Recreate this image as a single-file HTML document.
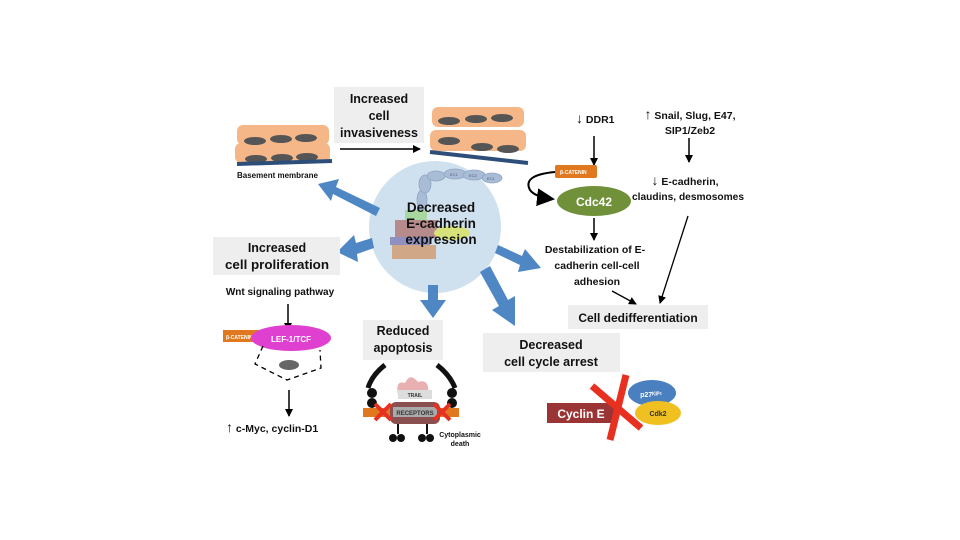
<!DOCTYPE html>
<html><head><meta charset="utf-8"><style>
body{margin:0;background:#fff}
svg{display:block;font-family:"Liberation Sans",sans-serif;font-weight:bold}
</style></head><body>
<svg width="960" height="540" viewBox="0 0 960 540" xmlns="http://www.w3.org/2000/svg">
<defs>
<marker id="ah" markerWidth="8" markerHeight="8" refX="7" refY="4" orient="auto" markerUnits="userSpaceOnUse"><path d="M0,0 L8,4 L0,8 Z" fill="#000"/></marker>
<marker id="ah2" markerWidth="18" markerHeight="18" refX="16" refY="9" orient="auto" markerUnits="userSpaceOnUse"><path d="M0,0 L18,9 L0,18 Z" fill="#000"/></marker>
</defs>
<circle cx="435" cy="227" r="66" fill="#cfe0ee"/>
<g fill="#a9bcd6" stroke="#8fa5c4" stroke-width="0.8">
<ellipse cx="422" cy="200" rx="5" ry="10"/><ellipse cx="425" cy="184" rx="6" ry="9"/><ellipse cx="436" cy="176" rx="9" ry="5"/><ellipse cx="455" cy="174" rx="11" ry="5"/><ellipse cx="474" cy="175" rx="11" ry="5"/><ellipse cx="492" cy="178" rx="10" ry="5"/></g>
<g font-size="4" fill="#557" font-weight="normal"><text x="450" y="176">EC1</text><text x="469" y="177">EC2</text><text x="487" y="180">EC1</text></g>
<rect x="405" y="210" width="22" height="12" fill="#a8d8a0"/>
<rect x="395" y="220" width="42" height="18" fill="#b78b8b"/>
<ellipse cx="452" cy="233" rx="18" ry="7" fill="#d8e27a"/>
<rect x="390" y="237" width="40" height="8" fill="#9090c0"/>
<rect x="392" y="245" width="44" height="14" fill="#d0a888"/>
<g font-size="13.5" text-anchor="middle" fill="#111"><text x="441" y="212">Decreased</text><text x="441" y="228">E-cadherin</text><text x="441" y="244">expression</text></g>
<g fill="#4f86c4">
<polygon points="380,208 336,187 339,179 318,184 331,201 333,194 376,216"/>
<polygon points="372,238 356,243 354,235 337,252 358,262 357,254 374,248"/>
<polygon points="428,285 438,285 438,300 446,300 433,318 420,300 428,300"/>
<polygon points="480,272 490,266 508,300 515,296 515,326 492,310 499,306"/>
<polygon points="498,245 522,256 525,249 541,268 518,272 520,265 495,253"/>
</g>
<rect x="334" y="87" width="90" height="56" fill="#eeeeee"/>
<g font-size="12.5" text-anchor="middle" fill="#111"><text x="379" y="103">Increased</text><text x="379" y="120">cell</text><text x="379" y="137" textLength="78" lengthAdjust="spacingAndGlyphs">invasiveness</text></g>
<line x1="340" y1="149" x2="420" y2="149" stroke="#000" stroke-width="1.5" marker-end="url(#ah)"/>
<g fill="#f5b787">
<rect x="237" y="125" width="92" height="20" rx="6"/><rect x="235" y="143" width="95" height="20" rx="6"/>
</g>
<g fill="#555"><ellipse cx="255" cy="141" rx="11" ry="4"/><ellipse cx="281" cy="139" rx="11" ry="4"/><ellipse cx="306" cy="138" rx="11" ry="4"/><ellipse cx="256" cy="159" rx="11" ry="4"/><ellipse cx="282" cy="158" rx="11" ry="4"/><ellipse cx="307" cy="157" rx="11" ry="4"/></g>
<line x1="237" y1="164" x2="332" y2="161" stroke="#2e4e7a" stroke-width="4"/>
<text x="237" y="178" font-size="8" fill="#111">Basement membrane</text>
<g fill="#f5b787"><rect x="432" y="107" width="92" height="20" rx="6"/><rect x="430" y="130" width="96" height="21" rx="6"/></g>
<g fill="#555"><ellipse cx="449" cy="121" rx="11" ry="4"/><ellipse cx="476" cy="119" rx="11" ry="4"/><ellipse cx="502" cy="118" rx="11" ry="4"/><ellipse cx="449" cy="141" rx="11" ry="4"/><ellipse cx="482" cy="147" rx="11" ry="4"/><ellipse cx="508" cy="149" rx="11" ry="4"/></g>
<line x1="430" y1="152" x2="528" y2="163" stroke="#2e4e7a" stroke-width="4"/>
<rect x="213" y="237" width="127" height="38" fill="#eeeeee"/>
<g font-size="12.5" text-anchor="middle" fill="#111"><text x="277" y="252">Increased</text><text x="277" y="269" textLength="104" lengthAdjust="spacingAndGlyphs">cell proliferation</text></g>
<text x="280" y="295" font-size="10" text-anchor="middle" fill="#111">Wnt signaling pathway</text>
<line x1="288" y1="304" x2="288" y2="330" stroke="#000" stroke-width="1.5" marker-end="url(#ah)"/>
<rect x="223" y="330" width="40" height="12" fill="#e07820"/>
<text x="226" y="339" font-size="5" fill="#fff">β-CATENIN</text>
<ellipse cx="291" cy="338" rx="40" ry="13" fill="#e040d0"/>
<text x="291" y="342" font-size="8" text-anchor="middle" fill="#fff">LEF-1/TCF</text>
<path d="M263,346 L255,364 L287,380 L321,368 L320,350" stroke="#000" stroke-dasharray="5,4" fill="none" stroke-width="1.3"/>
<ellipse cx="289" cy="365" rx="10" ry="5" fill="#666"/>
<line x1="289" y1="390" x2="289" y2="416" stroke="#000" stroke-width="1.5" marker-end="url(#ah)"/>
<text x="226" y="432" font-size="10.5" fill="#111"><tspan font-weight="normal" font-size="14">↑</tspan> c-Myc, cyclin-D1</text>
<rect x="363" y="320" width="80" height="40" fill="#eeeeee"/>
<g font-size="12.5" text-anchor="middle" fill="#111"><text x="403" y="335">Reduced</text><text x="403" y="352">apoptosis</text></g>
<path d="M368,388 Q372,375 385,365" stroke="#111" stroke-width="5" fill="none"/>
<path d="M437,365 Q450,375 455,388" stroke="#111" stroke-width="5" fill="none"/>
<g fill="#111"><circle cx="372" cy="393" r="5"/><circle cx="372" cy="403" r="5"/><circle cx="452" cy="393" r="5"/><circle cx="452" cy="403" r="5"/></g>
<path d="M398,395 Q395,380 405,383 Q410,372 418,382 Q430,378 428,395 Z" fill="#e8b0b0"/>
<rect x="363" y="408" width="96" height="9" fill="#e07820"/>
<rect x="390" y="402" width="50" height="22" rx="6" fill="#8a5050"/>
<rect x="398" y="390" width="34" height="9" fill="#ddd"/><text x="415" y="397" font-size="5" text-anchor="middle" fill="#333">TRAIL</text>
<rect x="393" y="407" width="44" height="10" fill="#aaa"/><text x="415" y="415" font-size="6" text-anchor="middle" fill="#333">RECEPTORS</text>
<g stroke="#e83020" stroke-width="4"><line x1="375" y1="404" x2="391" y2="420"/><line x1="391" y1="404" x2="375" y2="420"/><line x1="434" y1="404" x2="450" y2="420"/><line x1="450" y1="404" x2="434" y2="420"/></g>
<g fill="#111"><circle cx="393" cy="438" r="4"/><circle cx="401" cy="438" r="4"/><circle cx="422" cy="438" r="4"/><circle cx="430" cy="438" r="4"/></g>
<g stroke="#111" stroke-width="2"><line x1="398" y1="424" x2="398" y2="434"/><line x1="427" y1="424" x2="427" y2="434"/></g>
<g font-size="7" text-anchor="middle" fill="#111"><text x="460" y="437">Cytoplasmic</text><text x="460" y="446">death</text></g>
<rect x="483" y="333" width="137" height="39" fill="#eeeeee"/>
<g font-size="12.5" text-anchor="middle" fill="#111"><text x="551" y="349">Decreased</text><text x="551" y="366">cell cycle arrest</text></g>
<rect x="547" y="403" width="68" height="20" fill="#9b3535"/>
<text x="581" y="418" font-size="12" text-anchor="middle" fill="#fff">Cyclin E</text>
<ellipse cx="652" cy="393" rx="24" ry="13" fill="#4a7fc0"/>
<text x="651" y="397" font-size="7" text-anchor="middle" fill="#fff">p27ᴷᴵᴾ¹</text>
<ellipse cx="658" cy="413" rx="23" ry="12" fill="#f0c020"/>
<text x="658" y="416" font-size="7" text-anchor="middle" fill="#333">Cdk2</text>
<g stroke="#e83020" stroke-width="7"><line x1="592" y1="386" x2="641" y2="428"/><line x1="626" y1="375" x2="610" y2="440"/></g>
<text x="576" y="123" font-size="10.5" fill="#111"><tspan font-weight="normal" font-size="14">↓</tspan> DDR1</text>
<line x1="594" y1="136" x2="594" y2="165" stroke="#000" stroke-width="1.5" marker-end="url(#ah)"/>
<rect x="555" y="165" width="42" height="13" rx="2" fill="#e07820"/>
<text x="560" y="174" font-size="5" fill="#fff">β-CATENIN</text>
<path d="M555,172 Q522,175 530,190 Q535,197 553,199" stroke="#000" stroke-width="2" fill="none" marker-end="url(#ah2)"/>
<ellipse cx="594" cy="201" rx="37" ry="15" fill="#70903a"/>
<text x="594" y="206" font-size="12" text-anchor="middle" fill="#fff">Cdc42</text>
<line x1="594" y1="218" x2="594" y2="240" stroke="#000" stroke-width="1.5" marker-end="url(#ah)"/>
<g font-size="10.5" text-anchor="middle" fill="#111"><text x="595" y="253">Destabilization of E-</text><text x="597" y="269">cadherin cell-cell</text><text x="597" y="285">adhesion</text></g>
<line x1="612" y1="291" x2="636" y2="304" stroke="#000" stroke-width="1.3" marker-end="url(#ah)"/>
<g font-size="10.5" text-anchor="middle" fill="#111"><text x="690" y="119"><tspan font-weight="normal" font-size="14">↑</tspan> Snail, Slug, E47,</text><text x="690" y="134">SIP1/Zeb2</text>
<text x="685" y="185"><tspan font-weight="normal" font-size="14">↓</tspan> E-cadherin,</text><text x="688" y="200" textLength="112" lengthAdjust="spacingAndGlyphs">claudins, desmosomes</text></g>
<line x1="689" y1="138" x2="689" y2="162" stroke="#000" stroke-width="1.5" marker-end="url(#ah)"/>
<line x1="688" y1="216" x2="660" y2="303" stroke="#000" stroke-width="1.3" marker-end="url(#ah)"/>
<rect x="568" y="305" width="140" height="24" fill="#eeeeee"/>
<text x="638" y="322" font-size="12" text-anchor="middle" fill="#111">Cell dedifferentiation</text>
</svg>
</body></html>
